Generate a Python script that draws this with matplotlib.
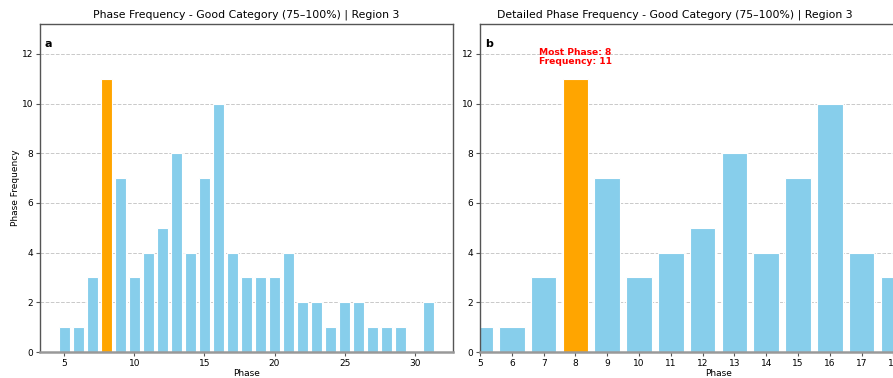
import matplotlib
matplotlib.use("Agg")
import matplotlib.pyplot as plt

# phase frequency, good category, region 3
phases = [5, 6, 7, 8, 9, 10, 11, 12, 13, 14, 15, 16, 17, 18, 19, 20,
          21, 22, 23, 24, 25, 26, 27, 28, 29, 31]
freqs = [1, 1, 3, 11, 7, 3, 4, 5, 8, 4, 7, 10, 4, 3, 3, 3,
         4, 2, 2, 1, 2, 2, 1, 1, 1, 2]

top_phase = phases[freqs.index(max(freqs))]
top_freq = max(freqs)
colors = ['orange' if p == top_phase else 'skyblue' for p in phases]

fig = plt.figure(figsize=(8.93, 3.78), dpi=100)
ax1 = fig.add_axes([40/893, 26/378, 413/893, 328/378])
ax2 = fig.add_axes([480/893, 26/378, 15*31.8/893, 328/378])


def style(ax):
    ax.set_ylim(0, top_freq * 1.2)
    ax.grid(axis='y', linestyle='--', color='#bbbbbb', linewidth=0.7, alpha=0.8)
    ax.set_axisbelow(True)
    for s in ax.spines.values():
        s.set_color('#555555')
        s.set_linewidth(1.0)
    ax.spines['bottom'].set_color('#999999')
    ax.spines['bottom'].set_linewidth(1.8)
    ax.tick_params(labelsize=6.5, length=3, width=0.8, color='#555555', pad=2)
    ax.set_xlabel('Phase', fontsize=6.5, labelpad=1)


ax1.bar(phases, freqs, width=0.8, color=colors, edgecolor='white', linewidth=0.8)
style(ax1)
ax1.set_ylabel('Phase Frequency', fontsize=6.5, labelpad=1)
ax1.set_title('Phase Frequency - Good Category (75–100%) | Region 3', fontsize=7.8, pad=5)
ax1.text(0.01, 0.93, 'a', transform=ax1.transAxes, fontsize=8, fontweight='bold')

ax2.bar(phases, freqs, width=0.8, color=colors, edgecolor='white', linewidth=0.8)
style(ax2)
ax2.set_xlim(5, 20)
ax2.set_xticks(range(5, 21))
ax2.text(0.01, 0.93, 'b', transform=ax2.transAxes, fontsize=8, fontweight='bold')
ax2.text(top_phase, top_freq + 0.5, f'Most Phase: {top_phase}\nFrequency: {top_freq}',
         ha='center', va='bottom', color='red', fontsize=6.6, fontweight='bold',
         multialignment='left', linespacing=1.0)
fig.text(675/893, 1 - 15/378, 'Detailed Phase Frequency - Good Category (75–100%) | Region 3',
         ha='center', va='center', fontsize=7.8)

fig.savefig('out.png', dpi=100)
